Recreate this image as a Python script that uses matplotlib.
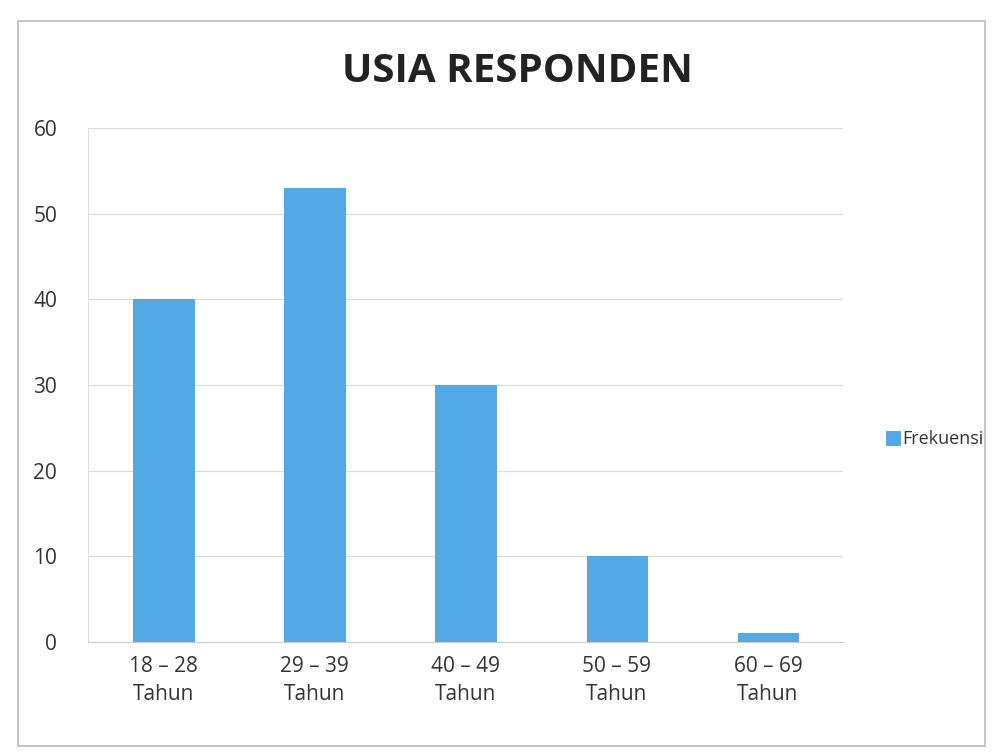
import matplotlib
matplotlib.use("Agg")
import matplotlib.pyplot as plt
from matplotlib.patches import Rectangle

categories = ["18 – 28\nTahun", "29 – 39\nTahun", "40 – 49\nTahun", "50 – 59\nTahun", "60 – 69\nTahun"]
frekuensi = [40, 53, 30, 10, 1]
yticks = [0, 10, 20, 30, 40, 50, 60]

plt.rcParams['font.family'] = ['Open Sans', 'DejaVu Sans']

fig = plt.figure(figsize=(9.97, 7.55), dpi=100)
fig.patch.set_facecolor('white')
# chart border
fig.add_artist(Rectangle((0.018, 0.012), 0.970, 0.960, transform=fig.transFigure,
                         fill=False, edgecolor='#BBBBBB', linewidth=1.2))

ax = fig.add_axes([0.088, 0.150, 0.758, 0.680])
x = list(range(len(categories)))
bars = ax.bar(x, frekuensi, width=0.4, color='#52A9E6', edgecolor='#4A9FDC',
              linewidth=0.6, label='Frekuensi', zorder=3)
ax.set_ylim(0, 60)
ax.set_xlim(-0.5, len(categories) - 0.5)
ax.set_yticks(yticks)
ax.set_xticks(x)
ax.set_xticklabels(categories, fontsize=15, color='#333333', linespacing=1.45)
ax.tick_params(axis='y', labelsize=15, colors='#333333', length=0, pad=22)
ax.tick_params(axis='x', length=0, pad=10)
ax.grid(axis='y', color='#DDDDDD', linewidth=0.9, zorder=0)
for s in ['top', 'right']:
    ax.spines[s].set_visible(False)
ax.spines['left'].set_color('#DDDDDD')
ax.spines['bottom'].set_color('#CCCCCC')

fig.text(0.519, 0.905, "USIA RESPONDEN", ha='center', va='center',
         fontsize=29, fontweight='bold', color='#222222')

leg = fig.legend(handles=[bars], labels=['Frekuensi'], loc='center left',
                 bbox_to_anchor=(0.872, 0.418), frameon=False, fontsize=13,
                 handlelength=0.8, handleheight=0.8, handletextpad=0.1)
for t in leg.get_texts():
    t.set_color('#333333')

fig.savefig("out.png", dpi=100)
